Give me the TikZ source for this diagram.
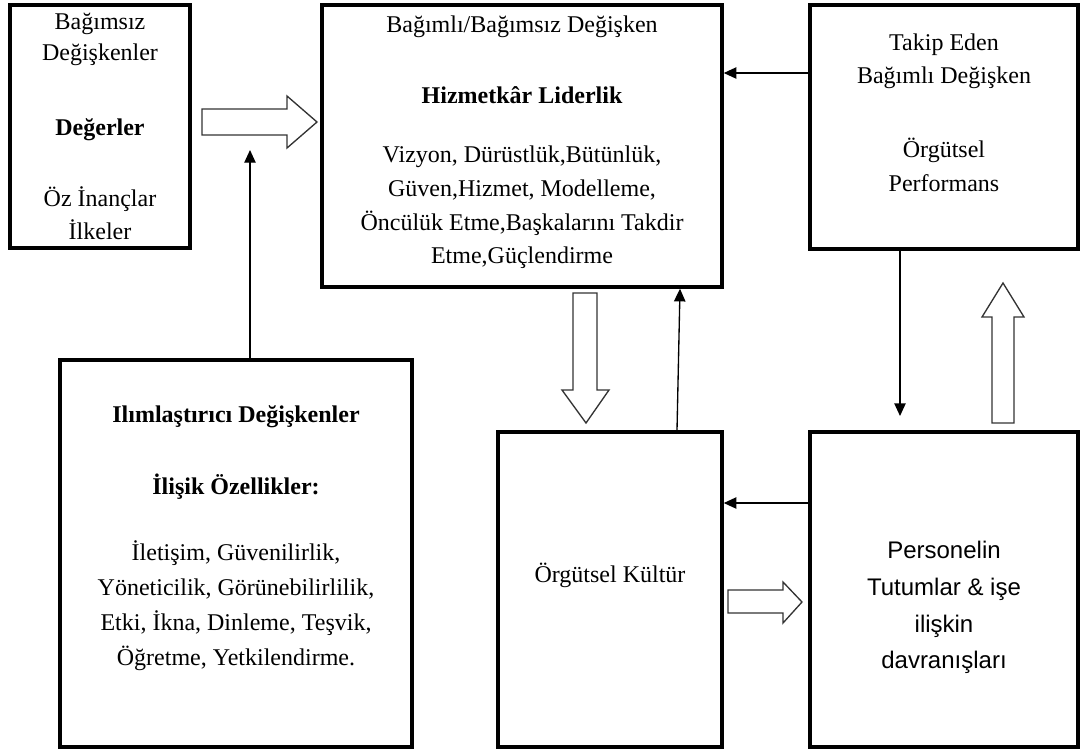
\documentclass[tikz,border=0pt]{standalone}
\usepackage{fontspec}
\setmainfont{Liberation Serif}
\newfontfamily\arialfont{Liberation Sans}
\usetikzlibrary{arrows.meta}
\begin{document}
\begin{tikzpicture}[x=0.75pt,y=-0.75pt,
  box/.style={draw, line width=2.6pt, rectangle, inner sep=0pt},
  txt/.style={align=center, inner sep=0pt, font=\fontsize{18}{#1}\selectfont},
  txt/.default=24,
  sanstxt/.style={align=center, inner sep=0pt, font=\arialfont\fontsize{18}{#1}\selectfont},
  link/.style={line width=1pt, -{Triangle[length=9.5pt,width=8.5pt]}},
  blockarrow/.style={draw=black!80, line width=1pt, fill=white, line join=miter}
]
\useasboundingbox (0,0) rectangle (1088,751);

% boxes
\node[box, minimum width=135pt,  minimum height=182.25pt] (b1) at (100,126.5) {};
\node[box, minimum width=300pt,  minimum height=211.5pt]  (b2) at (522,146) {};
\node[box, minimum width=201pt,  minimum height=183pt]    (b3) at (944,127) {};
\node[box, minimum width=264pt,  minimum height=290.25pt] (b4) at (236,553.5) {};
\node[box, minimum width=168pt,  minimum height=236.25pt] (b5) at (610,589.5) {};
\node[box, minimum width=201pt,  minimum height=236.25pt] (b6) at (944,589.5) {};

% texts of the independent variables
\node[txt=23.5] (t1a) at (100,39.5) {Bağımsız\\Değişkenler};
\node[txt] (t1b) at (100,130) {\textbf{Değerler}};
\node[txt=24.75] (t1c) at (100,213.5) {Öz İnançlar\\İlkeler};

% servant leadership
\node[txt] (t2a) at (522,27) {Bağımlı/Bağımsız Değişken};
\node[txt] (t2b) at (522,95) {\textbf{Hizmetkâr Liderlik}};
\node[txt=25.3] (t2c) at (522,207.5) {Vizyon, Dürüstlük,Bütünlük,\\Güven,Hizmet, Modelleme,\\Öncülük Etme,Başkalarını Takdir\\Etme,Güçlendirme};

% organisational performance
\node[txt=24.75] (t3a) at (944,61.5) {Takip Eden\\Bağımlı Değişken};
\node[txt=25.5] (t3b) at (944,165) {Örgütsel\\Performans};

% moderating variables
\node[txt] (t4a) at (236,417) {\textbf{Ilımlaştırıcı Değişkenler}};
\node[txt] (t4b) at (236,487) {\textbf{İlişik Özellikler:}};
\node[txt=26.25] (t4c) at (236,605.5) {İletişim, Güvenilirlik,\\Yöneticilik, Görünebilirlilik,\\Etki, İkna, Dinleme, Teşvik,\\Öğretme, Yetkilendirme.};

% organisational culture
\node[txt] (t5) at (610,575) {Örgütsel Kültür};

% staff attitudes
\node[sanstxt=27.5] (t6) at (944,607.5) {Personelin\\Tutumlar \& işe\\ilişkin\\davranışları};

% thin connectors
\coordinate (e1) at (250,150);
\coordinate (e2) at (900,416);
\draw[link] (b4.north -| 250,0) -- (e1);
\draw[link] (b3.west |- 0,73) -- (b2.east |- 0,73);
\draw[link] (b5.north -| 677,0) -- (b2.south -| 680,0);
\draw[link] (b3.south -| 900,0) -- (e2);
\draw[link] (b6.west |- 0,503) -- (b5.east |- 0,503);

% block arrows
\draw[blockarrow] (202,109) -- (287,109) -- (287,96) -- (317,122) -- (287,148) -- (287,135) -- (202,135) -- cycle;
\draw[blockarrow] (573,293) -- (597,293) -- (597,390) -- (609,390) -- (586,423) -- (562,390) -- (573,390) -- cycle;
\draw[blockarrow] (992,423) -- (1014,423) -- (1014,317) -- (1024,317) -- (1003,283) -- (982,317) -- (992,317) -- cycle;
\draw[blockarrow] (728,590) -- (783,590) -- (783,582) -- (802,602) -- (783,623) -- (783,613) -- (728,613) -- cycle;
\end{tikzpicture}
\end{document}
